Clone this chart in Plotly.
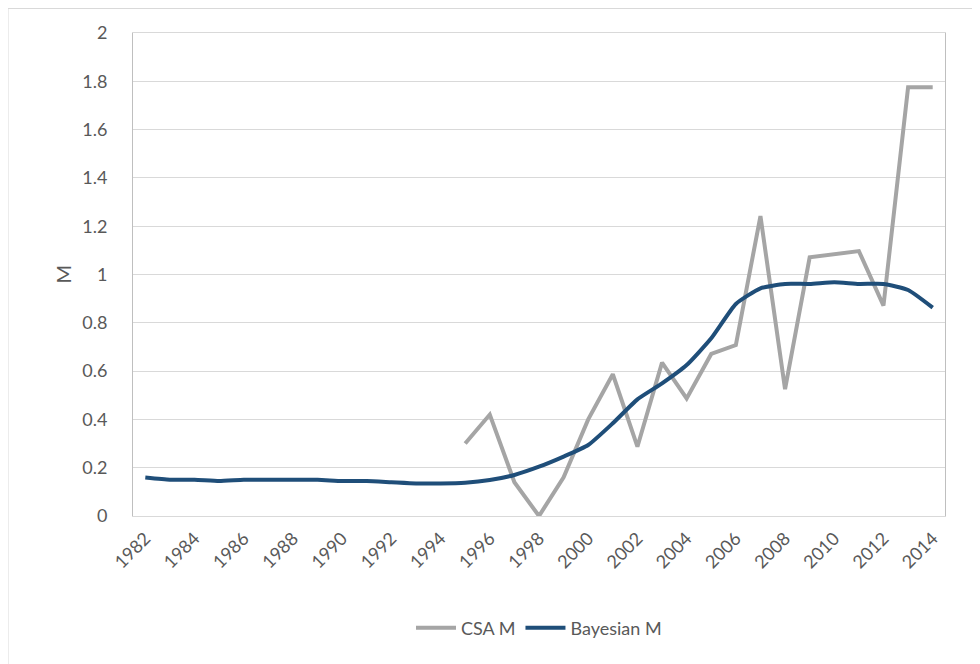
import plotly.graph_objects as go

# Years on the category axis
years = list(range(1982, 2015))

# CSA estimates start in 1995
csa_m = [None] * 13 + [0.30, 0.42, 0.14, 0.0, 0.16, 0.40, 0.587, 0.287, 0.635, 0.487,
                       0.671, 0.708, 1.242, 0.525, 1.071, 1.085, 1.097, 0.871, 1.775, 1.775]

bayes_m = [0.159, 0.150, 0.150, 0.145, 0.150, 0.150, 0.150, 0.150, 0.145, 0.145,
           0.140, 0.135, 0.135, 0.138, 0.149, 0.170, 0.204, 0.246, 0.294, 0.384,
           0.483, 0.549, 0.625, 0.736, 0.878, 0.943, 0.961, 0.961, 0.968, 0.961,
           0.961, 0.936, 0.863]

y_ticks = [0, 0.2, 0.4, 0.6, 0.8, 1, 1.2, 1.4, 1.6, 1.8, 2]
y_labels = ["0", "0.2", "0.4", "0.6", "0.8", "1", "1.2", "1.4", "1.6", "1.8", "2"]

font_family = "Lato, 'Liberation Sans', sans-serif"
text_color = "#595959"

# plot area in figure pixels (page adds an 8px body margin)
L, T, W, H = 125, 25, 812, 483

fig = go.Figure()
fig.add_trace(go.Scatter(x=years, y=csa_m, name="CSA M", mode="lines",
                         line=dict(color="#a5a5a5", width=4), connectgaps=False))
fig.add_trace(go.Scatter(x=years, y=bayes_m, name="Bayesian M", mode="lines",
                         line=dict(color="#1f4e79", width=4, shape="spline", smoothing=0.5)))

fig.update_layout(
    width=980, height=664,
    margin=dict(l=L, r=980 - L - W, t=T, b=664 - T - H),
    paper_bgcolor="white", plot_bgcolor="white",
    font=dict(family=font_family, size=18, color=text_color),
    showlegend=True,
    legend=dict(orientation="h", x=0.5, xanchor="center", y=-112 / H, yanchor="middle",
                font=dict(size=18, color=text_color), traceorder="normal",
                itemwidth=40),
)

fig.update_xaxes(
    range=[1981.5, 2014.5], tick0=1982, dtick=2, tickangle=-45,
    showgrid=False, zeroline=False, ticks="",
    showline=True, linecolor="#d9d9d9", linewidth=1, mirror=True,
    ticklabelstandoff=4,
    tickfont=dict(size=18, color=text_color),
)
fig.update_yaxes(
    range=[0, 2], tickvals=y_ticks, ticktext=y_labels,
    showgrid=True, gridcolor="#d9d9d9", gridwidth=1, zeroline=False, ticks="",
    showline=True, linecolor="#bfbfbf", linewidth=1, mirror=True,
    ticklabelstandoff=21,
    tickfont=dict(size=18, color=text_color),
)

# y axis title
fig.add_annotation(text="M", xref="paper", yref="paper", x=(54 - L) / W, y=0.5,
                   xanchor="center", yanchor="middle",
                   textangle=-90, showarrow=False,
                   font=dict(size=20, color=text_color))

# outer chart border
fig.add_shape(type="rect", xref="paper", yref="paper",
              x0=(0 - L) / W, x1=(970 - L) / W,
              y0=(T + H - 700) / H, y1=(T + H - 0.5) / H,
              line=dict(color="#d9d9d9", width=1), layer="below")

fig.write_html("out.html")
